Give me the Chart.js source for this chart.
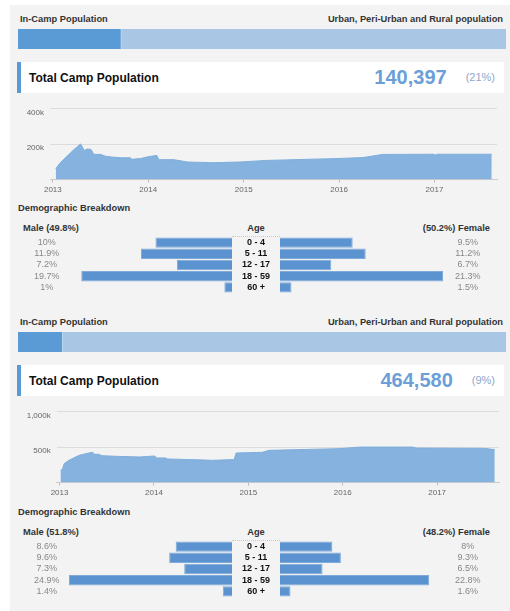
<!DOCTYPE html>
<html>
<head>
<meta charset="utf-8">
<script src="https://cdn.jsdelivr.net/npm/chart.js@4.4.0/dist/chart.umd.min.js"></script>
<style>
  body { margin: 0; width: 510px; height: 611px; background: #fff; position: relative; overflow: hidden;
         font-family: "Liberation Sans", Arial, sans-serif; }
  #bg { position: absolute; left: 10px; top: 5px; width: 500px; height: 606px; background: #f3f3f3; }
  .abs { position: absolute; white-space: nowrap; }
  .lbl { font-size: 9.3px; line-height: 9.3px; font-weight: bold; color: #333; }
  .box { position: absolute; left: 17px; width: 487px; height: 31px; box-sizing: border-box;
         background: #fff; border-left: 4px solid #5b9bd5; }
  .title { font-size: 12px; line-height: 12px; font-weight: bold; color: #111; }
  .nums { position: absolute; right: 15px; display: flex; align-items: flex-start; }
  .big { font-size: 20px; line-height: 20px; font-weight: bold; color: #6c9fd8; margin-top: 5px; margin-right: 19px; }
  .pct { font-size: 11px; line-height: 11px; color: #8ea8c8; margin-top: 10px; }
  .dots { position: absolute; left: 232px; width: 48px; height: 0; border-top: 1px dotted #c8c8c8; }
  canvas { position: absolute; }
</style>
</head>
<body>
<div id="bg"></div>
<script>
Chart.defaults.font.family = '"Liberation Sans", Arial, sans-serif';

// totals and in-camp / outside-camp split (%)
const campTotals  = [140397, 464580];
const campShare   = [21, 9];
const urbanShare  = [79, 91];
const malePct     = [49.8, 51.8];
const femalePct   = [50.2, 48.2];

// demographic breakdown (% of population)
const ageGroups = ["0 - 4", "5 - 11", "12 - 17", "18 - 59", "60 +"];
const male1   = [10, 11.9, 7.2, 19.7, 1];
const female1 = [9.5, 11.2, 6.7, 21.3, 1.5];
const male2   = [8.6, 9.6, 7.3, 24.9, 1.4];
const female2 = [8, 9.3, 6.5, 22.8, 1.6];

// camp population over time (decimal year, thousands)
const years1 = [2013.03, 2013.07, 2013.14, 2013.21, 2013.29, 2013.33, 2013.36, 2013.40, 2013.43, 2013.50,
                2013.55, 2013.62, 2013.71, 2013.81, 2013.83, 2013.92, 2014.01, 2014.09, 2014.11, 2014.27,
                2014.41, 2014.68, 2014.96, 2015.24, 2015.94, 2016.25, 2016.46, 2016.99, 2017.01, 2017.03, 2017.60];
const pop1   = [60, 90, 127, 164, 201, 164, 173, 170, 142, 142,
                132, 127, 123, 123, 114, 119, 130, 136, 112, 112,
                99, 95, 99, 108, 118, 124, 142, 143, 138, 143, 143];

const years2 = [2013.01, 2013.03, 2013.05, 2013.10, 2013.17, 2013.21, 2013.28, 2013.35, 2013.37, 2013.42,
                2013.44, 2013.60, 2013.85, 2014.01, 2014.02, 2014.13, 2014.14, 2014.38, 2014.62, 2014.85,
                2014.87, 2015.15, 2015.22, 2015.97, 2016.18, 2016.74, 2016.78, 2017.49, 2017.61];
const pop2   = [173, 183, 268, 314, 361, 385, 408, 427, 399, 399,
                380, 370, 361, 375, 347, 347, 333, 324, 314, 324,
                417, 427, 455, 479, 501, 501, 487, 483, 465];

const yearTicks = [2013, 2014, 2015, 2016, 2017];
const popTicks1 = [0, 200, 400];
const popTicks2 = [0, 500, 1000];

// page layout of the two panels
const panels = [
  { top: 0,   pyr: 0,   yAxisW: 40,   padRight: 13, years: years1, pop: pop1, ticks: popTicks1, male: male1, female: female1 },
  { top: 303, pyr: 304, yAxisW: 46.7, padRight: 11, years: years2, pop: pop2, ticks: popTicks2, male: male2, female: female2 }
];

const barBlue = "#5a93cf";
const barEdge = "#7faad9";
const areaBlue = "#85b2de";

function add(cls, style, text) {
  const d = document.createElement("div");
  d.className = cls;
  d.style.cssText = style;
  if (text !== undefined) d.textContent = text;
  document.body.appendChild(d);
  return d;
}

function addCanvas(x, y, w, h) {
  const c = document.createElement("canvas");
  c.width = w; c.height = h;
  c.style.left = x + "px"; c.style.top = y + "px";
  c.style.width = w + "px"; c.style.height = h + "px";
  document.body.appendChild(c);
  return c;
}

// fixed width, no top/bottom room for the labels
const fixW = w => s => { s.width = w; s.paddingTop = 0; s.paddingBottom = 0; };

const quiet = { legend: { display: false }, tooltip: { enabled: false } };

function buildPanel(i, P) {
  const o = P.top, q = P.pyr;

  add("abs lbl", `left:20px;top:${15.2 + o}px`, "In-Camp Population");
  add("abs lbl", `right:7px;top:${15.2 + o}px`, "Urban, Peri-Urban and Rural population");

  // share bar
  new Chart(addCanvas(18, 29 + o, 488, 20), {
    type: "bar",
    data: {
      labels: [""],
      datasets: [
        { data: [campShare[i]], backgroundColor: "#5b9bd5", borderWidth: 0 },
        { data: [urbanShare[i]], backgroundColor: "#a9c7e5", borderColor: "#ffffff",
          borderWidth: { left: 1, top: 0, right: 0, bottom: 0 }, borderSkipped: false }
      ]
    },
    options: {
      indexAxis: "y", responsive: false, animation: false, events: [],
      plugins: quiet,
      datasets: { bar: { barPercentage: 1, categoryPercentage: 1 } },
      scales: {
        x: { stacked: true, min: 0, max: 100, display: false },
        y: { stacked: true, display: false }
      }
    }
  });

  // total box
  add("box", `top:${62 + o}px`);
  add("abs title", `left:29px;top:${72 + o}px`, "Total Camp Population");
  const nums = add("nums", `top:${62 + o}px`);
  const big = document.createElement("span");
  big.className = "big";
  big.textContent = campTotals[i].toLocaleString("en-US");
  const pct = document.createElement("span");
  pct.className = "pct";
  pct.textContent = "(" + campShare[i] + "%)";
  nums.appendChild(big); nums.appendChild(pct);

  // population area chart
  const pts = P.years.map((x, k) => ({ x: x, y: P.pop[k] }));
  new Chart(addCanvas(10, 98 + o, 500, 100), {
    type: "line",
    data: {
      datasets: [{
        data: pts, fill: "origin", backgroundColor: areaBlue, borderColor: "#7eaddb",
        borderWidth: 1, pointRadius: 0, tension: 0
      }]
    },
    options: {
      responsive: false, animation: false, events: [],
      layout: { padding: { top: 9.5, right: P.padRight, left: 0, bottom: 0 } },
      plugins: quiet,
      scales: {
        x: {
          type: "linear", min: 2012.97, max: 2017.655,
          afterBuildTicks: s => { s.ticks = yearTicks.map(v => ({ value: v })); },
          afterFit: s => { s.height = 18.5; },
          grid: { drawOnChartArea: false, tickLength: 3, color: "#bbbbbb" },
          border: { color: "#cccccc" },
          ticks: { padding: 2, color: "#666", font: { size: 8 }, maxRotation: 0, autoSkip: false,
                   callback: v => String(v) }
        },
        y: {
          min: 0, max: P.ticks[P.ticks.length - 1],
          afterBuildTicks: s => { s.ticks = P.ticks.map(v => ({ value: v })); },
          afterFit: s => { s.width = P.yAxisW; },
          grid: { color: c => (c.tick && c.tick.value === 0) ? "rgba(0,0,0,0)" : "#dcdcdc", drawTicks: false },
          border: { display: false },
          ticks: { padding: 6, color: "#666", font: { size: 8 }, labelOffset: 4,
                   callback: v => v ? v.toLocaleString("en-US") + "k" : "" }
        }
      }
    }
  });

  // demographic breakdown
  add("abs lbl", `left:18px;top:${204.4 + q}px`, "Demographic Breakdown");
  add("abs lbl", `left:23px;top:${223.8 + q}px`, "Male (" + malePct[i] + "%)");
  add("abs lbl", `left:232px;width:48px;text-align:center;top:${223.8 + q}px`, "Age");
  add("abs lbl", `right:20px;top:${223.8 + q}px`, "(" + femalePct[i] + "%) Female");
  add("dots", `top:${236 + q}px`);

  const maxVal = Math.max(...P.male, ...P.female);
  const hide = { display: false, drawTicks: false };
  const flat = { autoPadding: false, padding: 0 };

  new Chart(addCanvas(25, 237 + q, 255, 56), {
    type: "bar",
    data: {
      labels: ageGroups,
      datasets: [{ data: P.male, backgroundColor: barBlue, borderColor: barEdge, borderWidth: 1,
                   barPercentage: 0.93, categoryPercentage: 1 }]
    },
    options: {
      indexAxis: "y", responsive: false, animation: false, events: [],
      layout: flat,
      plugins: quiet,
      scales: {
        x: { display: false, reverse: true, min: 0, max: maxVal },
        y: {
          position: "right", offset: true, afterFit: fixW(48),
          grid: hide, border: { display: false },
          ticks: { crossAlign: "center", padding: 10, autoSkip: false, color: "#111",
                   font: { size: 9, weight: "bold" } }
        },
        yPct: {
          type: "category", position: "left", offset: true, labels: P.male.map(v => v + "%"),
          afterFit: fixW(44),
          grid: hide, border: { display: false },
          ticks: { crossAlign: "center", padding: 9.5, autoSkip: false, color: "#888", font: { size: 9 } }
        }
      }
    }
  });

  new Chart(addCanvas(280, 237 + q, 213, 56), {
    type: "bar",
    data: {
      labels: ageGroups,
      datasets: [{ data: P.female, backgroundColor: barBlue, borderColor: barEdge, borderWidth: 1,
                   barPercentage: 0.93, categoryPercentage: 1 }]
    },
    options: {
      indexAxis: "y", responsive: false, animation: false, events: [],
      layout: flat,
      plugins: quiet,
      scales: {
        x: { display: false, min: 0, max: maxVal },
        y: {
          type: "category", position: "right", offset: true, labels: P.female.map(v => v + "%"),
          afterFit: fixW(50),
          grid: hide, border: { display: false },
          ticks: { crossAlign: "center", padding: 12, autoSkip: false, color: "#888", font: { size: 9 } }
        }
      }
    }
  });
}

panels.forEach((P, i) => buildPanel(i, P));
</script>
</body>
</html>
